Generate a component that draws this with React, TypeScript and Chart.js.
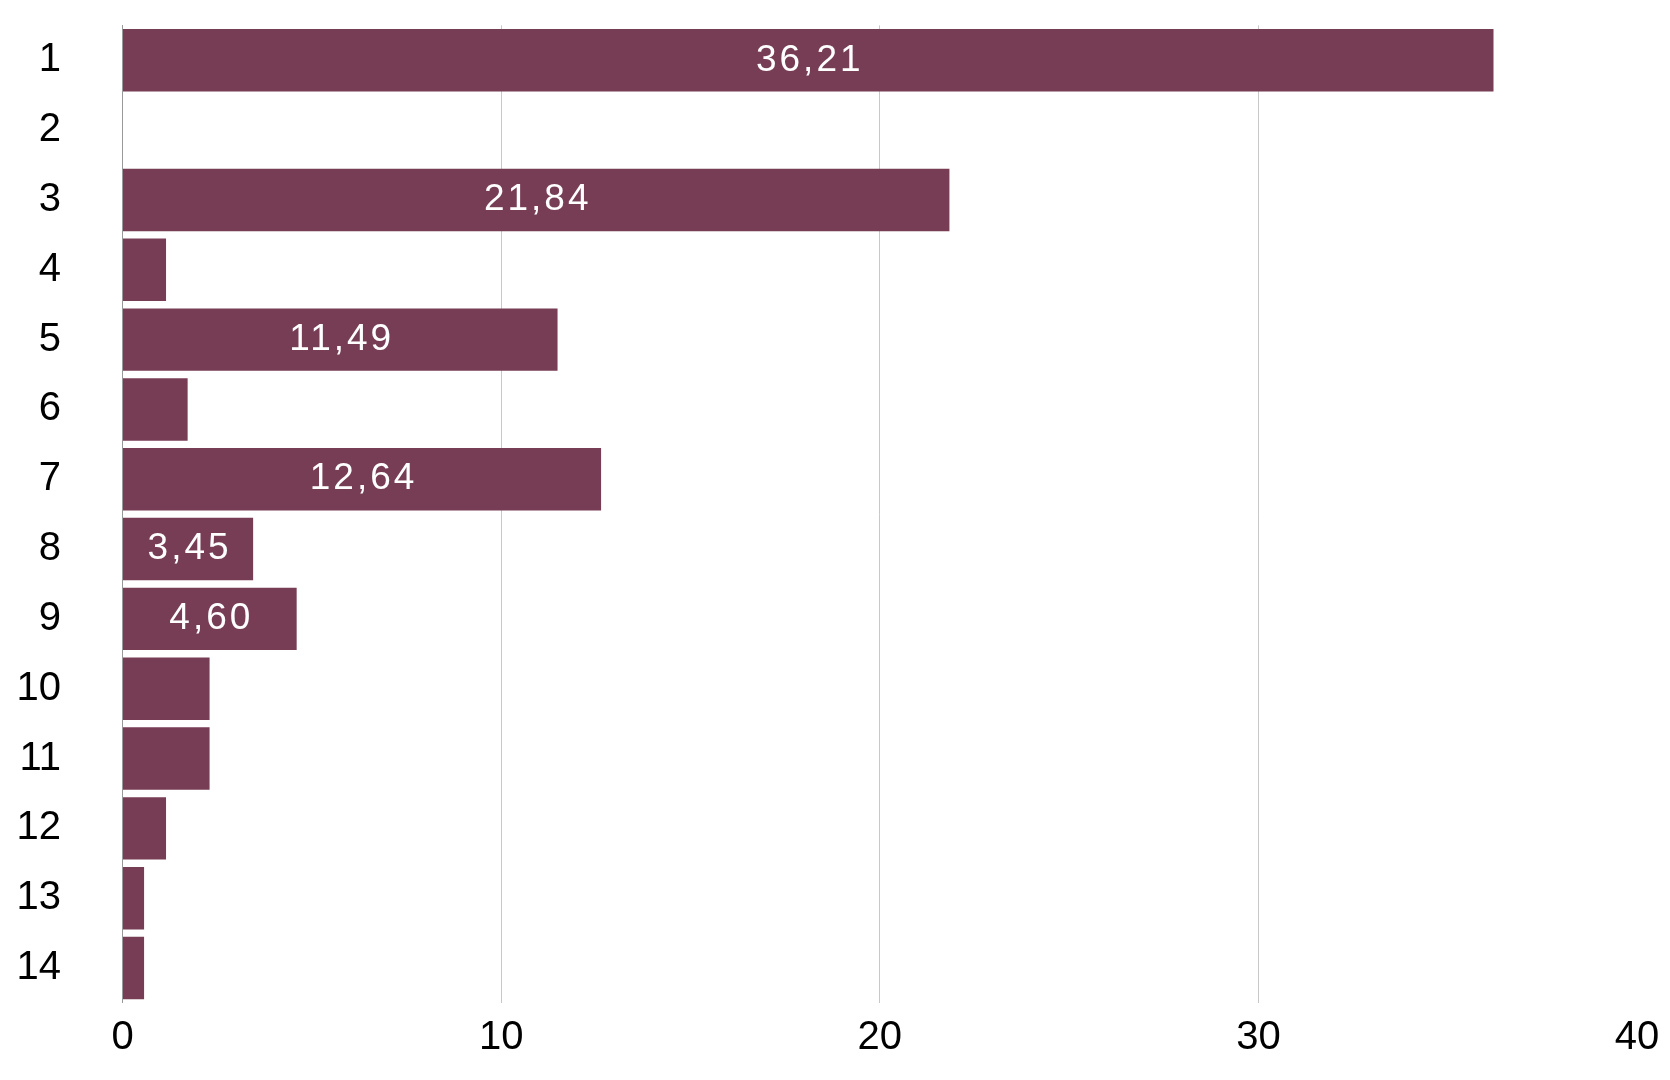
import React, { useEffect, useRef } from "react";
import { Chart, registerables } from "chart.js";

Chart.register(...registerables);

const categories: string[] = ["1", "2", "3", "4", "5", "6", "7", "8", "9", "10", "11", "12", "13", "14"];
const shares: number[] = [36.21, 0, 21.84, 1.15, 11.49, 1.72, 12.64, 3.45, 4.6, 2.3, 2.3, 1.15, 0.57, 0.57];
const xTicks: number[] = [0, 10, 20, 30, 40];
const LABEL_MIN = 3;

const FONT = '"Liberation Sans", Arial, Helvetica, sans-serif';
const BAR_COLOR = "#773d55";

const fmt = (v: number) => v.toFixed(2).replace(".", ",");

const valueLabels = {
  id: "valueLabels",
  afterDatasetsDraw(chart: any) {
    const ctx = chart.ctx;
    const meta = chart.getDatasetMeta(0);
    ctx.save();
    ctx.fillStyle = "#ffffff";
    ctx.font = `37px ${FONT}`;
    try {
      (ctx as any).letterSpacing = "3px";
    } catch (e) {}
    ctx.textAlign = "center";
    ctx.textBaseline = "middle";
    meta.data.forEach((bar: any, i: number) => {
      const v = shares[i];
      if (v < LABEL_MIN) return;
      const p = bar.getProps(["x", "y", "base"], true);
      ctx.fillText(fmt(v), (p.x + p.base) / 2 + 1.5, p.y);
    });
    ctx.restore();
  },
};

export default function App() {
  const ref = useRef<HTMLCanvasElement | null>(null);

  useEffect(() => {
    if (!ref.current) return;
    const chart = new Chart(ref.current, {
      type: "bar",
      data: {
        labels: categories,
        datasets: [
          {
            data: shares,
            backgroundColor: BAR_COLOR,
            borderWidth: 0,
            barPercentage: 1,
            categoryPercentage: 0.894,
          },
        ],
      },
      options: {
        indexAxis: "y",
        responsive: false,
        animation: false,
        layout: { padding: { top: 25.4, right: 33, bottom: 0, left: 0 } },
        plugins: {
          legend: { display: false },
          tooltip: { enabled: false },
          title: { display: false },
        },
        scales: {
          x: {
            type: "linear",
            min: xTicks[0],
            max: xTicks[xTicks.length - 1],
            afterBuildTicks: (scale: any) => {
              scale.ticks = xTicks.map((v) => ({ value: v }));
            },
            afterFit: (scale: any) => {
              scale.height = 77.1;
              scale.paddingLeft = 0;
              scale.paddingRight = 0;
            },
            grid: {
              drawTicks: false,
              color: (c: any) =>
                c.tick && (c.tick.value === 0 || c.tick.value === 40) ? "rgba(0,0,0,0)" : "#c8c8c8",
              lineWidth: 1,
            },
            border: { display: false },
            ticks: {
              color: "#000000",
              font: { family: FONT, size: 40 },
              padding: 11,
              maxRotation: 0,
              autoSkip: false,
            },
          },
          y: {
            type: "category",
            afterFit: (scale: any) => {
              scale.width = 122.5;
              scale.paddingTop = 0;
              scale.paddingBottom = 0;
            },
            grid: { display: false, drawTicks: false },
            border: { display: true, color: "#999999", width: 1 },
            ticks: {
              color: "#000000",
              font: { family: FONT, size: 40 },
              padding: 61.5,
              autoSkip: false,
            },
          },
        },
      },
      plugins: [valueLabels],
    });
    return () => chart.destroy();
  }, []);

  return (
    <div style={{ position: "absolute", left: 0, top: 0, width: 1670, height: 1080, background: "#fff" }}>
      <canvas ref={ref} width={1670} height={1080} style={{ display: "block" }} />
    </div>
  );
}
